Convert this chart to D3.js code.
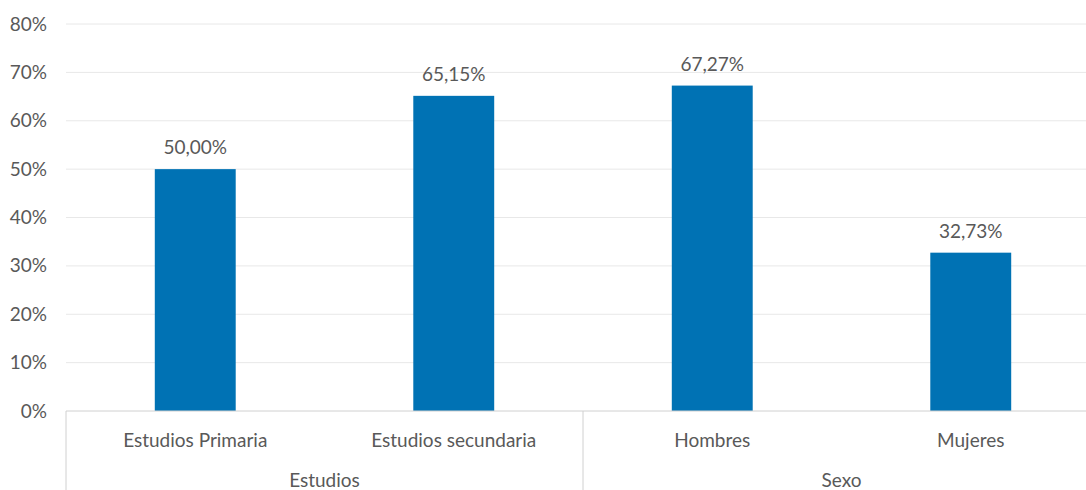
<!DOCTYPE html>
<html>
<head>
<meta charset="utf-8">
<script src="https://cdn.jsdelivr.net/npm/d3@7"></script>
<style>
  body { margin: 0; background: #fff; }
  text { font-family: Lato, "Open Sans", sans-serif; fill: #595959; }
</style>
</head>
<body>
<script>
const categories = ["Estudios Primaria", "Estudios secundaria", "Hombres", "Mujeres"];
const values = [0.50, 0.6515, 0.6727, 0.3273];
const groups = ["Estudios", "Sexo"];
const groupSizes = [2, 2];
const yTicks = [0, 0.1, 0.2, 0.3, 0.4, 0.5, 0.6, 0.7, 0.8];

const margin = { left: 66, top: 24 };
const width = 1034;
const height = 387;
const fs = "19px";

var svg = d3.select("body").append("svg")
    .attr("width", 1086)
    .attr("height", 490);

var g = svg.append("g")
    .attr("transform", "translate(" + margin.left + "," + margin.top + ")");

var y = d3.scaleLinear().domain([0, 0.8]).range([height, 0]);
var x = d3.scaleBand().domain(categories).range([0, width]).paddingInner(0.687).paddingOuter(0.3435);

var fmtPct = d => d3.format(".0%")(d);
var fmtLbl = d => d3.format(".2f")(d * 100).replace(".", ",") + "%";

// gridlines
g.selectAll(".grid").data(yTicks.slice(1)).enter().append("line")
    .attr("x1", 0).attr("x2", width)
    .attr("y1", d => y(d)).attr("y2", d => y(d))
    .attr("stroke", "#e8e8e8").attr("stroke-width", 1);

// y axis labels
var yAxis = d3.axisLeft(y).tickValues(yTicks).tickFormat(fmtPct).tickSize(0).tickPadding(19);
g.append("g").call(yAxis)
    .call(s => s.select(".domain").remove())
    .selectAll("text").style("font-size", fs).style("font-family", null).attr("fill", "#595959");

// bars
g.selectAll("rect").data(values).enter().append("rect")
    .attr("x", (d, i) => x(categories[i]))
    .attr("y", d => y(d))
    .attr("width", x.bandwidth())
    .attr("height", d => height - y(d))
    .attr("fill", "#0072B4");

// data labels
g.selectAll(".lbl").data(values).enter().append("text")
    .attr("x", (d, i) => x(categories[i]) + x.bandwidth() / 2)
    .attr("y", d => y(d) - 15)
    .attr("text-anchor", "middle")
    .style("font-size", fs)
    .text(fmtLbl);

// x axis baseline
g.append("line").attr("x1", 0).attr("x2", width).attr("y1", height).attr("y2", height)
    .attr("stroke", "#d0d0d0");

// category labels
g.selectAll(".cat").data(categories).enter().append("text")
    .attr("x", d => x(d) + x.bandwidth() / 2)
    .attr("y", height + 36)
    .attr("text-anchor", "middle")
    .style("font-size", fs)
    .text(d => d);

// group separators and labels
var step = x.step();
var start = 0;
var bounds = [0];
groupSizes.forEach(n => { start += n; bounds.push(start); });
g.selectAll(".sep").data(bounds).enter().append("line")
    .attr("x1", d => d * step).attr("x2", d => d * step)
    .attr("y1", height).attr("y2", 490 - margin.top)
    .attr("stroke", "#d0d0d0");

g.selectAll(".grp").data(groups).enter().append("text")
    .attr("x", (d, i) => (bounds[i] + bounds[i + 1]) / 2 * step)
    .attr("y", height + 76)
    .attr("text-anchor", "middle")
    .style("font-size", fs)
    .text(d => d);
</script>
</body>
</html>
